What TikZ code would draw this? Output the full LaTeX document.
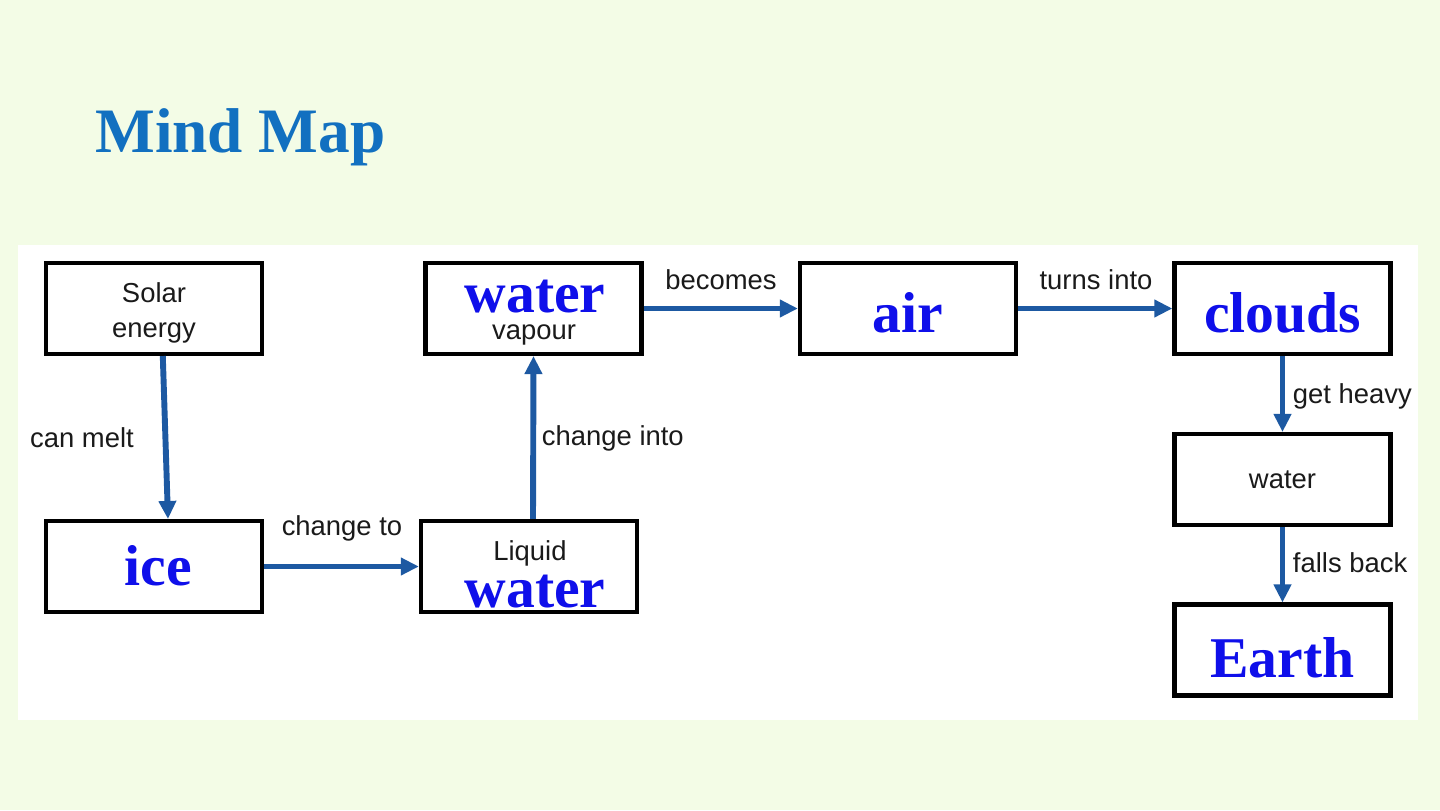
\documentclass[tikz,border=0pt]{standalone}
\usepackage{fontspec}
\setmainfont{Liberation Serif}
\setsansfont{Liberation Sans}
\usetikzlibrary{arrows.meta,positioning}
\usepackage{xcolor}
\definecolor{mbg}{HTML}{F3FCE6}
\definecolor{mtitle}{HTML}{1270C0}
\definecolor{mword}{HTML}{0F0FEA}
\definecolor{marrow}{HTML}{1D59A2}
\definecolor{mtext}{HTML}{1A1A1A}

\begin{document}
\begin{tikzpicture}[x=0.025cm, y=-0.025cm,
  box/.style={draw=black, line width=3pt, fill=white, minimum width=5.4cm,
    minimum height=2.27cm, inner sep=0pt, align=center},
  word/.style={font=\bfseries\fontsize{41}{41}\selectfont, text=mword},
  drop/.style={text height=#1, text depth=0pt},
  small/.style={font=\sffamily\fontsize{19.5}{25}\selectfont, text=mtext},
  flow/.style={draw=marrow, line width=4.2pt, -{Triangle[length=0.45cm,width=0.42cm]}}]
% ---------- page ----------
\fill[mbg] (0,0) rectangle (1440,810);
\fill[white] (18,245) rectangle (1418,720);
\node[font=\bfseries\fontsize{45}{45}\selectfont, text=mtitle, anchor=base west, inner sep=0pt]
   (title) at (95,152) {Mind Map};
% ---------- boxes ----------
\node[box, small] (solar) at (154,308.5) {\rule{0pt}{0.72cm}Solar\\energy};
\node[box, word, drop=0.93cm] (ice) at (154,566.5) {\hspace{0.2cm}ice};
\node[box] (liquid) at (529,566.5) {};
\node[box] (vapour) at (533.5,308.5) {};
\node[box, word, drop=1.2cm] (air) at (908,308.5) {air};
\node[box, word, drop=1.18cm] (clouds) at (1282.5,308.5) {clouds};
\node[box, small] (water) at (1282.5,479.5) {water};
\node[box, word, drop=1.35cm] (earth) at (1282.5,650) {Earth};
% texts laid over the two water boxes
\node[small, anchor=base] (vapour-s) at (534,339) {vapour};
\node[word, anchor=base] (vapour-w) at (535,312) {water};
\node[small, anchor=base] (liquid-s) at (530,560) {Liquid};
\node[word, anchor=base] (liquid-w) at (535,607) {water};
% ---------- links ----------
\draw[flow] ([xshift=0.22cm]solar.south) -- ([xshift=0.35cm]ice.north);
\draw[flow] (ice) -- (liquid);
\draw[flow] ([xshift=0.1cm]liquid.north) -- (vapour.south);
\draw[flow] (vapour) -- (air);
\draw[flow] (air) -- (clouds);
\draw[flow] (clouds) -- (water);
\draw[flow] (water) -- (earth);
% ---------- link labels ----------
\node[small, anchor=base] (l-melt) at (82,447) {can melt};
\node[small, anchor=base] (l-to) at (342,535) {change to};
\node[small, anchor=base west] (l-into) at (537,445) {change into};
\node[small, anchor=base] (l-becomes) at (721,289) {becomes};
\node[small, anchor=base] (l-turns) at (1096,289) {turns into};
\node[small, anchor=base west] (l-heavy) at (1288,403) {get heavy};
\node[small, anchor=base west] (l-falls) at (1288,572) {falls back};
\end{tikzpicture}
\end{document}
